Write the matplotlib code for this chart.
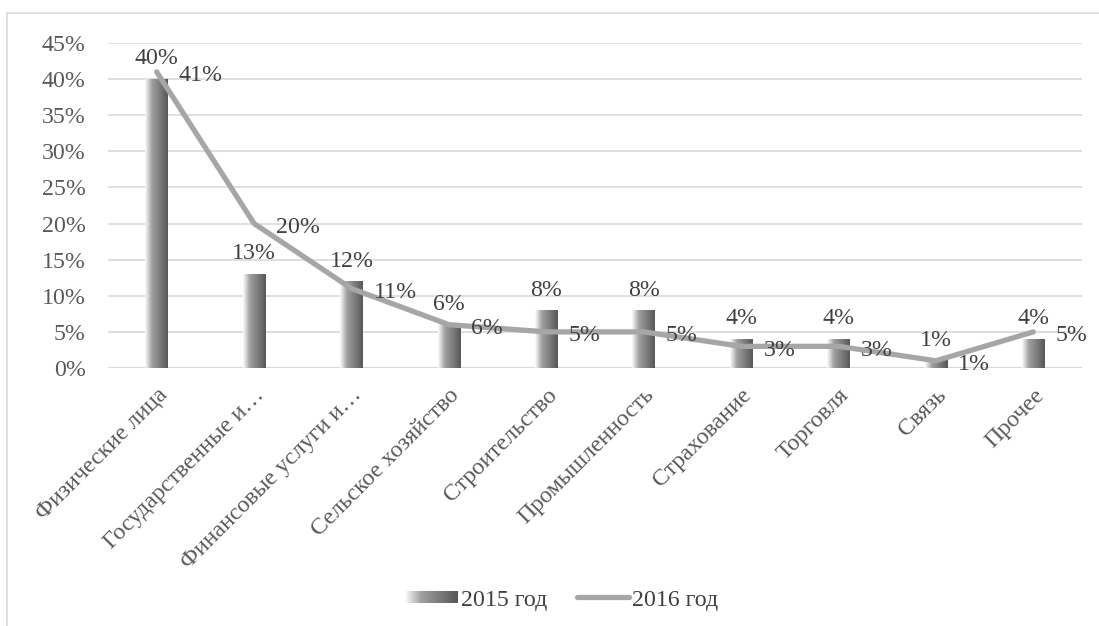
## Структура кредитного портфеля по отраслям, 2015-2016
import matplotlib.pyplot as plt
import numpy as np
from matplotlib.colors import LinearSegmentedColormap
from matplotlib.patches import Rectangle
from matplotlib.lines import Line2D

plt.rcParams['font.family'] = ['Liberation Serif', 'DejaVu Serif']

categories = ['Физические лица', 'Государственные и…', 'Финансовые услуги и…',
              'Сельское хозяйство', 'Строительство', 'Промышленность',
              'Страхование', 'Торговля', 'Связь', 'Прочее']
v2015 = [40, 13, 12, 6, 8, 8, 4, 4, 1, 4]
v2016 = [41, 20, 11, 6, 5, 5, 3, 3, 1, 5]
yticks = [0, 5, 10, 15, 20, 25, 30, 35, 40, 45]

FS = 17.2
W, H = 1099, 626
fig = plt.figure(figsize=(W / 100, H / 100), dpi=100)
ax = fig.add_axes([108 / W, 1 - 368 / H, (1082 - 108) / W, (368 - 43) / H])

# градиент для столбцов: светлый слева, тёмный справа
grad = LinearSegmentedColormap.from_list('g', [(0, '#fbfbfb'), (0.3, '#a0a0a0'), (1, '#585858')])
gimg = np.linspace(0, 1, 64).reshape(1, -1)

x = np.arange(len(categories))
bw = 0.23
for xi, v in zip(x, v2015):
    ax.imshow(gimg, cmap=grad, extent=[xi - bw / 2, xi + bw / 2, 0, v],
              aspect='auto', zorder=2, interpolation='bilinear')
    ax.annotate(f'{v}%', (xi, v), xytext=(0, 7), textcoords='offset points',
                ha='center', va='bottom', fontsize=FS, color='#404040', zorder=5)

ax.plot(x, v2016, color='#a6a6a6', lw=3.8, solid_capstyle='round',
        solid_joinstyle='round', zorder=3)
for xi, v in zip(x, v2016):
    ax.annotate(f'{v}%', (xi, v), xytext=(16, -1), textcoords='offset points',
                ha='left', va='center_baseline', fontsize=FS, color='#404040', zorder=5)

ax.set_xlim(-0.5, len(categories) - 0.5)
ax.set_ylim(0, 45)
ax.set_yticks(yticks)
ax.set_yticklabels([f'{t}%' for t in yticks])
ax.set_xticks(x)
ax.set_xticklabels(categories, rotation=45, ha='right', va='top', rotation_mode='anchor')
ax.tick_params(axis='both', length=0, labelsize=FS, labelcolor='#595959')
ax.tick_params(axis='y', pad=16)
ax.tick_params(axis='x', pad=12)
for s in ax.spines.values():
    s.set_visible(False)
ax.grid(axis='y', color='#d9d9d9', lw=1.2, zorder=0)
ax.axhline(0, color='#d9d9d9', lw=2.2, zorder=1)
ax.set_axisbelow(True)

# рамка
fig.patches.append(Rectangle((7 / W, -0.1), 1.2, 1 - 13 / H + 0.1, transform=fig.transFigure,
                             fill=False, edgecolor='#d9d9d9', lw=1.2))

# легенда
lax = fig.add_axes([405 / W, 1 - 603 / H, 52 / W, 12 / H])
lax.imshow(gimg, cmap=grad, aspect='auto', extent=[0, 1, 0, 1], interpolation='bilinear')
lax.axis('off')
fig.text(461 / W, 1 - 598 / H, '2015 год', fontsize=FS, color='#404040', va='center_baseline')
fig.add_artist(Line2D([577 / W, 629 / W], [1 - 597 / H, 1 - 597 / H], transform=fig.transFigure,
                      color='#a6a6a6', lw=3.8, solid_capstyle='round'))
fig.text(632 / W, 1 - 598 / H, '2016 год', fontsize=FS, color='#404040', va='center_baseline')

plt.savefig('out.png', dpi=100)
plt.close('all')
